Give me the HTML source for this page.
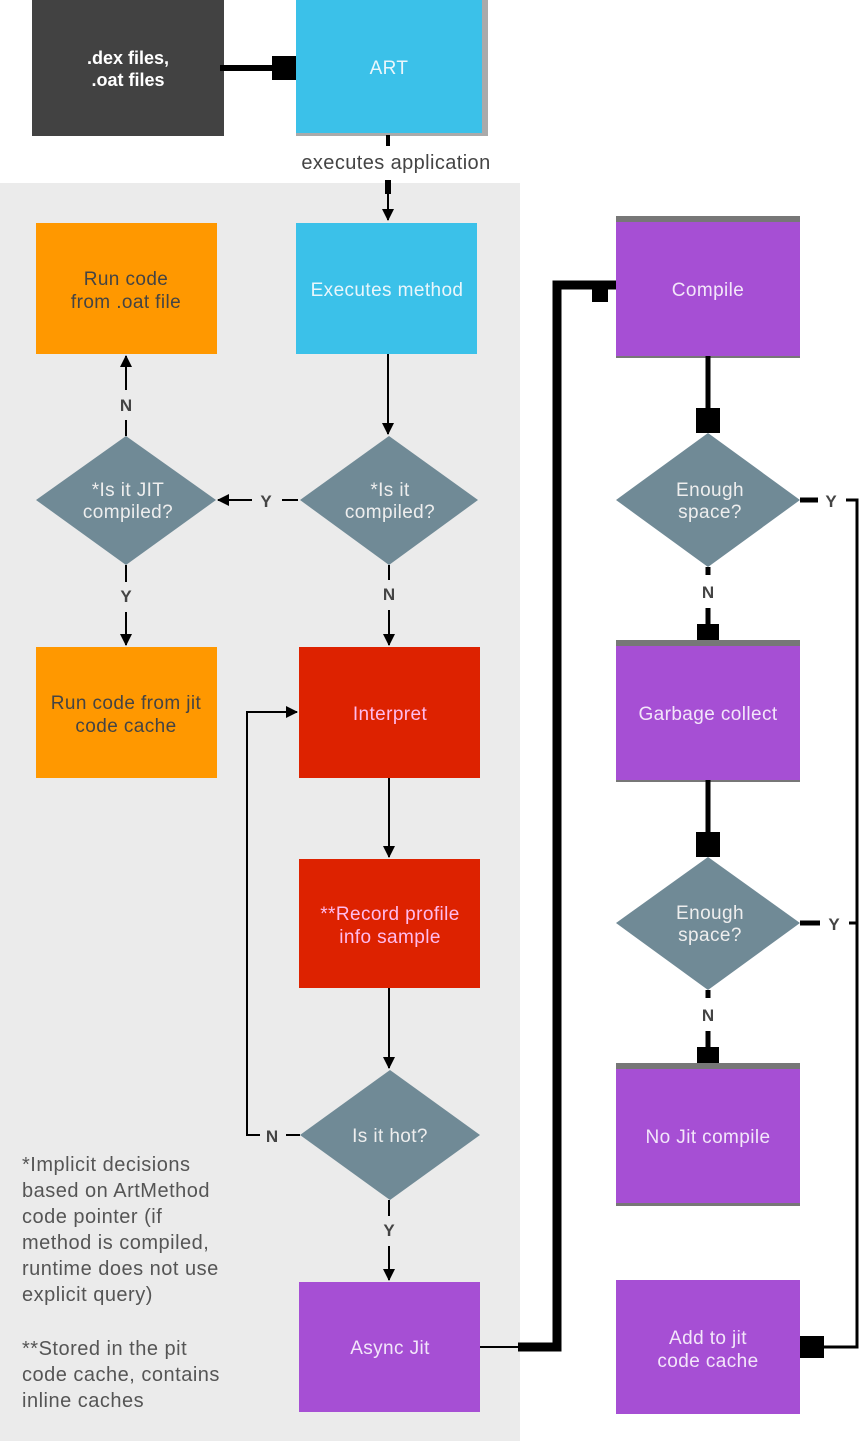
<!DOCTYPE html>
<html><head><meta charset="utf-8"><style>
html,body{margin:0;padding:0;background:#fff}
svg{display:block}
text{font-family:"Liberation Sans",sans-serif}
.l{font-size:19px;letter-spacing:0.4px}
</style></head><body>
<svg width="864" height="1441" viewBox="0 0 864 1441" xmlns="http://www.w3.org/2000/svg">
<defs><marker id="a" markerWidth="12" markerHeight="12" refX="11" refY="6" orient="auto" markerUnits="userSpaceOnUse"><path d="M0,0 L12,6 L0,12 z" fill="#000"/></marker></defs>
<rect x="0" y="183" width="520" height="1258" fill="#ebebeb"/>
<!-- top -->
<rect x="32" y="0" width="192" height="136" fill="#424242"/>
<text x="128" y="64" fill="#fff" font-size="18" font-weight="bold" text-anchor="middle">.dex files,</text>
<text x="128" y="86" fill="#fff" font-size="18" font-weight="bold" text-anchor="middle">.oat files</text>
<rect x="296" y="0" width="192" height="136" fill="#aaa"/>
<rect x="296" y="0" width="186" height="133" fill="#3bc1e9"/>
<text x="389" y="74" fill="#eaf6fb" class="l" text-anchor="middle">ART</text>
<line x1="220" y1="68" x2="280" y2="68" stroke="#000" stroke-width="6"/>
<rect x="272" y="56" width="24" height="24" fill="#000"/>
<text x="396" y="169" fill="#444" font-size="20" letter-spacing="0.4" text-anchor="middle">executes application</text>
<line x1="388" y1="135" x2="388" y2="146" stroke="#000" stroke-width="4"/>
<line x1="388" y1="180" x2="388" y2="220" stroke="#000" stroke-width="2" marker-end="url(#a)"/>
<rect x="385" y="180" width="6" height="14" fill="#000"/>
<!-- left column boxes -->
<rect x="296" y="223" width="181" height="131" fill="#3bc1e9"/>
<text x="387" y="296" fill="#eaf6fb" class="l" text-anchor="middle">Executes method</text>
<rect x="36" y="223" width="181" height="131" fill="#ff9800"/>
<text x="126" y="285" fill="#444" class="l" text-anchor="middle">Run code</text>
<text x="126" y="308" fill="#444" class="l" text-anchor="middle">from .oat file</text>
<polygon points="126,436 216,500 126,565 36,500" fill="#708a96"/>
<text x="128" y="496" fill="#eee" class="l" text-anchor="middle">*Is it JIT</text>
<text x="128" y="518" fill="#eee" class="l" text-anchor="middle">compiled?</text>
<polygon points="389,436 478,500 389,565 300,500" fill="#708a96"/>
<text x="390" y="496" fill="#eee" class="l" text-anchor="middle">*Is it</text>
<text x="390" y="518" fill="#eee" class="l" text-anchor="middle">compiled?</text>
<rect x="36" y="647" width="181" height="131" fill="#ff9800"/>
<text x="126" y="709" fill="#444" class="l" text-anchor="middle">Run code from jit</text>
<text x="126" y="732" fill="#444" class="l" text-anchor="middle">code cache</text>
<rect x="299" y="647" width="181" height="131" fill="#dd2200"/>
<text x="390" y="720" fill="#fbe" class="l" text-anchor="middle">Interpret</text>
<rect x="299" y="859" width="181" height="129" fill="#dd2200"/>
<text x="390" y="920" fill="#fbe" class="l" text-anchor="middle">**Record profile</text>
<text x="390" y="943" fill="#fbe" class="l" text-anchor="middle">info sample</text>
<polygon points="390,1070 480,1135 390,1200 300,1135" fill="#708a96"/>
<text x="390" y="1142" fill="#eee" class="l" text-anchor="middle">Is it hot?</text>
<rect x="299" y="1282" width="181" height="130" fill="#a64fd4"/>
<text x="390" y="1354" fill="#f3e6fa" class="l" text-anchor="middle">Async Jit</text>
<!-- left connectors -->
<line x1="388" y1="354" x2="388" y2="434" stroke="#000" stroke-width="2" marker-end="url(#a)"/>
<line x1="298" y1="500" x2="282" y2="500" stroke="#000" stroke-width="2"/>
<text x="266" y="507" fill="#444" font-size="17" font-weight="bold" text-anchor="middle">Y</text>
<line x1="252" y1="500" x2="218" y2="500" stroke="#000" stroke-width="2" marker-end="url(#a)"/>
<line x1="126" y1="436" x2="126" y2="420" stroke="#000" stroke-width="2"/>
<text x="126" y="411" fill="#444" font-size="17" font-weight="bold" text-anchor="middle">N</text>
<line x1="126" y1="390" x2="126" y2="356" stroke="#000" stroke-width="2" marker-end="url(#a)"/>
<line x1="126" y1="565" x2="126" y2="582" stroke="#000" stroke-width="2"/>
<text x="126" y="602" fill="#444" font-size="17" font-weight="bold" text-anchor="middle">Y</text>
<line x1="126" y1="612" x2="126" y2="645" stroke="#000" stroke-width="2" marker-end="url(#a)"/>
<line x1="389" y1="565" x2="389" y2="580" stroke="#000" stroke-width="2"/>
<text x="389" y="600" fill="#444" font-size="17" font-weight="bold" text-anchor="middle">N</text>
<line x1="389" y1="610" x2="389" y2="645" stroke="#000" stroke-width="2" marker-end="url(#a)"/>
<line x1="389" y1="778" x2="389" y2="857" stroke="#000" stroke-width="2" marker-end="url(#a)"/>
<line x1="389" y1="988" x2="389" y2="1068" stroke="#000" stroke-width="2" marker-end="url(#a)"/>
<line x1="300" y1="1135" x2="286" y2="1135" stroke="#000" stroke-width="2"/>
<text x="272" y="1142" fill="#444" font-size="17" font-weight="bold" text-anchor="middle">N</text>
<polyline points="260,1135 247,1135 247,712 297,712" fill="none" stroke="#000" stroke-width="2" marker-end="url(#a)"/>
<line x1="389" y1="1200" x2="389" y2="1216" stroke="#000" stroke-width="2"/>
<text x="389" y="1236" fill="#444" font-size="17" font-weight="bold" text-anchor="middle">Y</text>
<line x1="389" y1="1246" x2="389" y2="1280" stroke="#000" stroke-width="2" marker-end="url(#a)"/>
<!-- notes -->
<g fill="#555" font-size="20" letter-spacing="0.5">
<text x="22" y="1171">*Implicit decisions</text>
<text x="22" y="1197">based on ArtMethod</text>
<text x="22" y="1223">code pointer (if</text>
<text x="22" y="1249">method is compiled,</text>
<text x="22" y="1275">runtime does not use</text>
<text x="22" y="1301">explicit query)</text>
<text x="22" y="1355">**Stored in the pit</text>
<text x="22" y="1381">code cache, contains</text>
<text x="22" y="1407">inline caches</text>
</g>
<!-- right column -->
<rect x="616" y="216" width="184" height="142" fill="#777"/>
<rect x="616" y="222" width="184" height="134" fill="#a64fd4"/>
<text x="708" y="296" fill="#f3e6fa" class="l" text-anchor="middle">Compile</text>
<polygon points="708,433 800,500 708,567 616,500" fill="#708a96"/>
<text x="710" y="496" fill="#eee" class="l" text-anchor="middle">Enough</text>
<text x="710" y="518" fill="#eee" class="l" text-anchor="middle">space?</text>
<rect x="616" y="640" width="184" height="142" fill="#777"/>
<rect x="616" y="646" width="184" height="134" fill="#a64fd4"/>
<text x="708" y="720" fill="#f3e6fa" class="l" text-anchor="middle">Garbage collect</text>
<polygon points="708,857 800,923 708,990 616,923" fill="#708a96"/>
<text x="710" y="919" fill="#eee" class="l" text-anchor="middle">Enough</text>
<text x="710" y="941" fill="#eee" class="l" text-anchor="middle">space?</text>
<rect x="616" y="1063" width="184" height="143" fill="#777"/>
<rect x="616" y="1069" width="184" height="134" fill="#a64fd4"/>
<text x="708" y="1143" fill="#f3e6fa" class="l" text-anchor="middle">No Jit compile</text>
<rect x="616" y="1280" width="184" height="134" fill="#a64fd4"/>
<text x="708" y="1344" fill="#f3e6fa" class="l" text-anchor="middle">Add to jit</text>
<text x="708" y="1367" fill="#f3e6fa" class="l" text-anchor="middle">code cache</text>
<!-- right connectors -->
<line x1="480" y1="1347" x2="522" y2="1347" stroke="#000" stroke-width="2"/>
<polyline points="518,1347 557,1347 557,285 616,285" fill="none" stroke="#000" stroke-width="9"/>
<rect x="592" y="285" width="16" height="17" fill="#000"/>
<line x1="708" y1="356" x2="708" y2="420" stroke="#000" stroke-width="5"/>
<rect x="696" y="408" width="24" height="25" fill="#000"/>
<line x1="708" y1="567" x2="708" y2="575" stroke="#000" stroke-width="5"/>
<text x="708" y="598" fill="#444" font-size="17" font-weight="bold" text-anchor="middle">N</text>
<line x1="708" y1="608" x2="708" y2="630" stroke="#000" stroke-width="5"/>
<rect x="697" y="624" width="22" height="16" fill="#000"/>
<line x1="708" y1="780" x2="708" y2="835" stroke="#000" stroke-width="5"/>
<rect x="696" y="832" width="24" height="25" fill="#000"/>
<line x1="708" y1="990" x2="708" y2="998" stroke="#000" stroke-width="5"/>
<text x="708" y="1021" fill="#444" font-size="17" font-weight="bold" text-anchor="middle">N</text>
<line x1="708" y1="1031" x2="708" y2="1053" stroke="#000" stroke-width="5"/>
<rect x="697" y="1047" width="22" height="16" fill="#000"/>
<line x1="800" y1="500" x2="818" y2="500" stroke="#000" stroke-width="5"/>
<text x="831" y="507" fill="#444" font-size="17" font-weight="bold" text-anchor="middle">Y</text>
<line x1="800" y1="923" x2="820" y2="923" stroke="#000" stroke-width="5"/>
<text x="834" y="930" fill="#444" font-size="17" font-weight="bold" text-anchor="middle">Y</text>
<polyline points="846,500 857,500 857,1347 800,1347" fill="none" stroke="#000" stroke-width="3"/>
<line x1="849" y1="923" x2="857" y2="923" stroke="#000" stroke-width="3"/>
<rect x="800" y="1336" width="24" height="22" fill="#000"/>
</svg>
</body></html>
